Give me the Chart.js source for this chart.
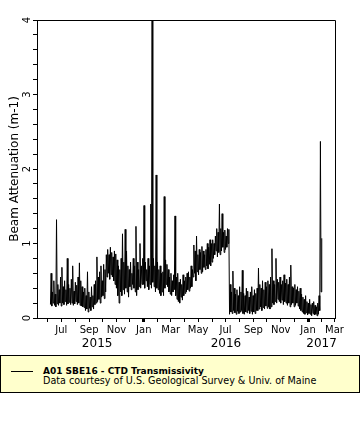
<!DOCTYPE html>
<html><head><meta charset="utf-8">
<script src="https://cdn.jsdelivr.net/npm/chart.js@4/dist/chart.umd.min.js"></script>
<style>
html,body{margin:0;padding:0;background:#fff;width:360px;height:440px;overflow:hidden;font-family:'DejaVu Sans',sans-serif;}
#wrap{position:absolute;left:0;top:0;width:360px;height:352px;}
#legend{position:absolute;left:0;top:355px;width:358px;height:36px;background:#ffffcc;border:1px solid #000;}
#legend .ln{position:absolute;left:10px;top:15px;width:22px;height:1px;background:#000;}
#legend .t1{position:absolute;left:42px;top:10px;font-size:9px;font-weight:bold;line-height:10px;color:#000;white-space:nowrap;}
#legend .t2{position:absolute;left:42px;top:19px;font-size:9.6px;line-height:11px;color:#000;white-space:nowrap;}
</style></head>
<body>
<div id="wrap"><canvas id="c" width="360" height="352"></canvas></div>
<div id="legend"><div class="ln"></div><div class="t1">A01 SBE16 - CTD Transmissivity</div><div class="t2">Data courtesy of U.S. Geological Survey &amp; Univ. of Maine</div></div>
<script>
// ---- data (3-day bins starting 2015-06-07; per bin a low and a high reading) ----
const seriesStart = [2015, 6, 7];
const binDays = 3;
const lowValues = [
 0.18,0.16,0.2,0.17,0.15,0.19,0.17,0.2,0.16,
 0.2,0.18,0.22,0.17,0.19,0.21,0.18,0.2,0.17,0.19,0.22,0.18,0.2,0.17,0.16,0.15,0.14,
 0.1,0.12,0.08,0.13,0.1,0.15,0.12,0.18,0.2,
 0.22,0.25,0.2,0.28,0.3,0.26,0.35,
 0.55,0.6,0.52,0.58,0.55,0.5,0.45,0.4,0.3,
 0.2,0.35,0.3,0.38,0.32,0.4,0.35,0.28,0.42,0.38,0.45,0.4,0.35,0.3,0.38,0.42,0.4,0.45,
 0.45,0.4,0.5,0.42,0.38,0.45,0.4,0.48,0.42,0.35,0.4,0.38,0.33,0.3,
 0.35,0.3,0.4,0.45,0.42,0.35,0.32,0.3,0.35,0.38,
 0.3,0.25,0.22,0.2,0.28,0.24,0.3,0.33,0.35,0.38,0.36,0.4,0.42,
 0.55,0.6,0.5,0.62,0.58,0.65,0.6,0.62,0.68,0.65,0.7,0.66,0.72,0.7,
 0.75,0.8,0.85,0.9,0.82,0.88,0.85,0.9,0.95,0.88,0.92,0.95,1.0,
 0.05,0.08,0.06,0.1,0.07,0.05,0.09,0.06,0.08,0.1,0.06,0.05,0.08,0.07,0.1,0.06,0.09,0.05,0.08,0.06,0.1,
 0.1,0.12,0.15,0.1,0.14,0.12,0.16,0.13,0.15,0.12,
 0.15,0.2,0.18,0.22,0.2,0.25,0.22,0.2,0.24,0.18,0.22,0.2,0.17,0.2,0.15,
 0.18,0.2,0.15,0.17,0.2,0.16,0.12,0.1,
 0.08,0.06,0.05,0.07,0.04,0.06,0.05,0.03,0.06,0.04,0.05,0.03,0.05,
 0.1,0.35
];
const highValues = [
 0.6,0.35,0.5,0.32,1.32,0.45,0.38,0.55,0.68,
 0.42,0.5,0.38,0.8,0.45,0.4,0.52,0.7,0.36,0.48,0.44,0.55,0.74,0.5,0.42,0.35,0.4,
 0.3,0.62,0.35,0.28,0.42,0.3,0.45,0.5,0.82,
 0.55,0.62,0.7,0.5,0.72,0.65,0.85,
 0.92,0.85,0.95,0.88,0.82,0.9,0.86,0.78,0.7,
 0.65,0.8,1.13,0.75,1.19,0.9,0.7,0.65,0.75,0.6,0.8,0.7,1.23,0.75,0.65,1.0,0.7,0.8,
 1.51,0.75,0.65,0.8,0.7,1.53,4.5,0.8,0.7,1.92,0.75,0.65,0.7,0.6,
 0.62,1.63,0.78,0.72,0.65,0.55,0.6,0.5,0.58,1.37,
 0.55,0.6,0.48,0.52,0.45,0.58,0.5,0.55,0.6,0.62,0.55,0.7,0.65,
 0.98,0.9,1.1,0.85,0.92,0.88,0.96,0.9,0.85,0.92,1.0,0.95,1.05,1.0,
 1.05,1.0,1.1,1.2,1.15,1.53,1.2,1.4,1.15,1.18,1.1,1.2,1.19,
 0.45,0.35,0.63,0.4,0.32,0.38,0.3,0.42,0.35,0.64,0.33,0.3,0.4,0.36,0.28,0.35,0.42,0.3,0.38,0.33,0.4,
 0.67,0.45,0.4,0.5,0.38,0.48,0.42,0.5,0.45,0.55,
 0.93,0.5,0.45,0.8,0.52,0.48,0.55,0.45,0.5,0.58,0.47,0.52,0.45,0.55,0.71,
 0.42,0.4,0.45,0.38,0.42,0.36,0.4,0.32,
 0.28,0.25,0.3,0.22,0.2,0.25,0.18,0.2,0.22,0.17,0.15,0.2,0.3,
 2.37,1.07
];
const monthNames = ['Jan','Feb','Mar','Apr','May','Jun','Jul','Aug','Sep','Oct','Nov','Dec'];
const yearLabels = ['2015','2016','2017'];
const yearLabelDates = [[2015,9,19],[2016,7,2],[2017,1,31]];
const axisRange = [[2015,5,8],[2017,3,2]];
const yTickLabels = [0,1,2,3,4];

function dayNum(a){ return Date.UTC(a[0], a[1]-1, a[2]) / 86400000; }

const start = dayNum(seriesStart);
const points = [];
for (let i = 0; i < lowValues.length; i++) {
  points.push({x: start + binDays*i, y: lowValues[i]});
  points.push({x: start + binDays*i + binDays/2, y: highValues[i]});
}
const xMin = dayNum(axisRange[0]), xMax = dayNum(axisRange[1]);
const monthTicks = [];
for (let y = 2015; y <= 2017; y++) for (let m = 1; m <= 12; m++) {
  const v = dayNum([y, m, 1]);
  if (v >= xMin && v <= xMax) monthTicks.push(v);
}
const FONT = "'DejaVu Sans', sans-serif";

const extras = {
  id: 'extras',
  afterDraw(chart) {
    const ctx = chart.ctx, a = chart.chartArea, xs = chart.scales.x, ys = chart.scales.y;
    ctx.save();
    ctx.strokeStyle = '#000'; ctx.lineWidth = 1;
    ctx.beginPath();
    ctx.moveTo(a.left, a.top + 0.5); ctx.lineTo(a.right + 0.5, a.top + 0.5);
    ctx.lineTo(a.right + 0.5, a.bottom);
    ctx.stroke();
    ctx.fillStyle = '#000';
    ctx.font = '12px ' + FONT; ctx.textAlign = 'center'; ctx.textBaseline = 'middle';
    yearLabels.forEach((t, i) => ctx.fillText(t, xs.getPixelForValue(dayNum(yearLabelDates[i])), 344));
    ctx.font = '10px ' + FONT;
    yTickLabels.forEach(v => {
      ctx.save();
      ctx.translate(27, ys.getPixelForValue(v));
      ctx.rotate(-Math.PI/2);
      ctx.fillText(String(v), 0, 0);
      ctx.restore();
    });
    ctx.restore();
  }
};

new Chart(document.getElementById('c'), {
  type: 'line',
  data: { datasets: [{ data: points, borderColor: '#000', borderWidth: 1, pointRadius: 0, tension: 0, fill: false }] },
  options: {
    responsive: false, animation: false, devicePixelRatio: 1,
    layout: { padding: { top: 20, right: 25, left: 0, bottom: 0 } },
    plugins: { legend: { display: false }, tooltip: { enabled: false } },
    scales: {
      x: {
        type: 'linear', min: xMin, max: xMax,
        afterBuildTicks(s) { s.ticks = monthTicks.map(v => ({value: v})); },
        afterFit(s) { s.height = 34; s.paddingLeft = 0; s.paddingRight = 0; },
        ticks: {
          autoSkip: false, maxRotation: 0, minRotation: 0, padding: 2, color: '#000',
          font: { family: FONT, size: 10 },
          callback(v) { const m = new Date(v*86400000).getUTCMonth(); return m % 2 === 0 ? monthNames[m] : ''; }
        },
        grid: {
          drawOnChartArea: false, drawTicks: true, tickLength: 4, color: '#000',
          tickColor: '#000',
          tickWidth: (c) => (c.tick && new Date(c.tick.value*86400000).getUTCMonth() === 0) ? 3 : 1
        },
        border: { color: '#000', width: 1 }
      },
      y: {
        type: 'linear', min: 0, max: 4,
        ticks: { stepSize: 0.2, display: false },
        afterFit(s) { s.width = 37; s.paddingTop = 0; s.paddingBottom = 0; },
        grid: { drawOnChartArea: false, drawTicks: true, tickLength: 4, color: '#000', tickColor: '#000' },
        border: { color: '#000', width: 1 },
        title: { display: true, text: 'Beam Attenuation (m-1)', color: '#000', font: { family: FONT, size: 12 }, padding: { top: 8, bottom: 0 } }
      }
    }
  },
  plugins: [extras]
});
</script>
</body></html>
